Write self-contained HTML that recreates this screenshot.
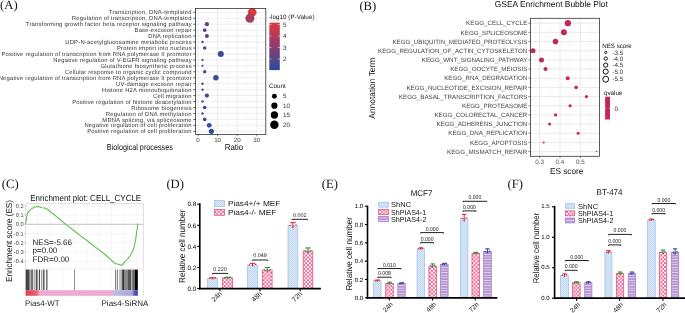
<!DOCTYPE html>
<html><head><meta charset="utf-8"><style>
html,body{margin:0;padding:0;background:#fff;}
body{width:685px;height:313px;overflow:hidden;font-family:"Liberation Sans", sans-serif;}
svg{display:block;will-change:transform;text-rendering:geometricPrecision;}
</style></head><body>
<svg width="685" height="313" viewBox="0 0 685 313">
<defs>
<linearGradient id="cbar" x1="0" y1="0" x2="0" y2="1">
<stop offset="0" stop-color="#e2383e"/><stop offset="0.5" stop-color="#8e3c70"/><stop offset="1" stop-color="#2b4b9c"/>
</linearGradient>
<pattern id="hatchB" patternUnits="userSpaceOnUse" width="2" height="2">
<rect width="2" height="2" fill="#dbe8f7"/><rect width="1" height="1" fill="#c4d9f1"/><rect x="1" y="1" width="1" height="1" fill="#c4d9f1"/>
</pattern>
<pattern id="checkP" patternUnits="userSpaceOnUse" width="3.7" height="3.8">
<rect width="3.7" height="3.8" fill="#ec6290"/><rect width="1.85" height="1.9" fill="#fff"/><rect x="1.85" y="1.9" width="1.85" height="1.9" fill="#fff"/>
</pattern>
<pattern id="stripeV" patternUnits="userSpaceOnUse" width="4" height="2.6">
<rect width="4" height="2.6" fill="#b592cf"/><rect y="1.7" width="4" height="0.9" fill="#e4d6ee"/>
</pattern>
<linearGradient id="rankbar" x1="0" y1="0" x2="1" y2="0">
<stop offset="0" stop-color="#de424e"/><stop offset="0.07" stop-color="#e4566a"/><stop offset="0.112" stop-color="#e87488"/><stop offset="0.12" stop-color="#ecaad4"/>
<stop offset="0.78" stop-color="#ecaad4"/><stop offset="0.786" stop-color="#bcbae6"/><stop offset="0.95" stop-color="#a8a6dc"/><stop offset="0.968" stop-color="#5a5ab4"/><stop offset="1" stop-color="#3c3ca0"/>
</linearGradient>
</defs>
<text x="0.10" y="8.70" font-size="12.7" text-anchor="start" fill="#111" font-family='"Liberation Serif", serif'>(A)</text>
<rect x="195.50" y="8.50" width="70.30" height="125.90" fill="#fff" stroke="none" stroke-width="0.6"/>
<line x1="207.80" y1="8.50" x2="207.80" y2="134.40" stroke="#f1f1f1" stroke-width="0.4"/>
<line x1="227.40" y1="8.50" x2="227.40" y2="134.40" stroke="#f1f1f1" stroke-width="0.4"/>
<line x1="247.00" y1="8.50" x2="247.00" y2="134.40" stroke="#f1f1f1" stroke-width="0.4"/>
<line x1="198.00" y1="8.50" x2="198.00" y2="134.40" stroke="#e6e6e6" stroke-width="0.7"/>
<line x1="217.60" y1="8.50" x2="217.60" y2="134.40" stroke="#e6e6e6" stroke-width="0.7"/>
<line x1="237.20" y1="8.50" x2="237.20" y2="134.40" stroke="#e6e6e6" stroke-width="0.7"/>
<line x1="256.80" y1="8.50" x2="256.80" y2="134.40" stroke="#e6e6e6" stroke-width="0.7"/>
<line x1="195.50" y1="12.30" x2="265.80" y2="12.30" stroke="#e6e6e6" stroke-width="0.7"/>
<line x1="195.50" y1="18.25" x2="265.80" y2="18.25" stroke="#e6e6e6" stroke-width="0.7"/>
<line x1="195.50" y1="24.20" x2="265.80" y2="24.20" stroke="#e6e6e6" stroke-width="0.7"/>
<line x1="195.50" y1="30.15" x2="265.80" y2="30.15" stroke="#e6e6e6" stroke-width="0.7"/>
<line x1="195.50" y1="36.10" x2="265.80" y2="36.10" stroke="#e6e6e6" stroke-width="0.7"/>
<line x1="195.50" y1="42.05" x2="265.80" y2="42.05" stroke="#e6e6e6" stroke-width="0.7"/>
<line x1="195.50" y1="48.00" x2="265.80" y2="48.00" stroke="#e6e6e6" stroke-width="0.7"/>
<line x1="195.50" y1="53.95" x2="265.80" y2="53.95" stroke="#e6e6e6" stroke-width="0.7"/>
<line x1="195.50" y1="59.90" x2="265.80" y2="59.90" stroke="#e6e6e6" stroke-width="0.7"/>
<line x1="195.50" y1="65.85" x2="265.80" y2="65.85" stroke="#e6e6e6" stroke-width="0.7"/>
<line x1="195.50" y1="71.80" x2="265.80" y2="71.80" stroke="#e6e6e6" stroke-width="0.7"/>
<line x1="195.50" y1="77.75" x2="265.80" y2="77.75" stroke="#e6e6e6" stroke-width="0.7"/>
<line x1="195.50" y1="83.70" x2="265.80" y2="83.70" stroke="#e6e6e6" stroke-width="0.7"/>
<line x1="195.50" y1="89.65" x2="265.80" y2="89.65" stroke="#e6e6e6" stroke-width="0.7"/>
<line x1="195.50" y1="95.60" x2="265.80" y2="95.60" stroke="#e6e6e6" stroke-width="0.7"/>
<line x1="195.50" y1="101.55" x2="265.80" y2="101.55" stroke="#e6e6e6" stroke-width="0.7"/>
<line x1="195.50" y1="107.50" x2="265.80" y2="107.50" stroke="#e6e6e6" stroke-width="0.7"/>
<line x1="195.50" y1="113.45" x2="265.80" y2="113.45" stroke="#e6e6e6" stroke-width="0.7"/>
<line x1="195.50" y1="119.40" x2="265.80" y2="119.40" stroke="#e6e6e6" stroke-width="0.7"/>
<line x1="195.50" y1="125.35" x2="265.80" y2="125.35" stroke="#e6e6e6" stroke-width="0.7"/>
<line x1="195.50" y1="131.30" x2="265.80" y2="131.30" stroke="#e6e6e6" stroke-width="0.7"/>
<circle cx="252.20" cy="12.30" r="4.30" fill="#dd393f" stroke="none" stroke-width="0.6"/>
<circle cx="249.90" cy="18.25" r="4.50" fill="#a43f62" stroke="none" stroke-width="0.6"/>
<circle cx="206.90" cy="24.20" r="2.10" fill="#5d3f88" stroke="none" stroke-width="0.6"/>
<circle cx="204.70" cy="30.15" r="1.80" fill="#52418f" stroke="none" stroke-width="0.6"/>
<circle cx="206.90" cy="36.10" r="2.00" fill="#5a3f8b" stroke="none" stroke-width="0.6"/>
<circle cx="202.50" cy="42.05" r="1.20" fill="#404a97" stroke="none" stroke-width="0.6"/>
<circle cx="204.70" cy="48.00" r="1.70" fill="#3f4a98" stroke="none" stroke-width="0.6"/>
<circle cx="220.80" cy="53.95" r="3.00" fill="#3d4a99" stroke="none" stroke-width="0.6"/>
<circle cx="202.50" cy="59.90" r="1.10" fill="#3e4a97" stroke="none" stroke-width="0.6"/>
<circle cx="202.50" cy="65.85" r="1.10" fill="#3e4a97" stroke="none" stroke-width="0.6"/>
<circle cx="204.70" cy="71.80" r="1.70" fill="#3d4b98" stroke="none" stroke-width="0.6"/>
<circle cx="215.90" cy="77.75" r="2.80" fill="#3c4b99" stroke="none" stroke-width="0.6"/>
<circle cx="202.50" cy="83.70" r="1.20" fill="#3d4a98" stroke="none" stroke-width="0.6"/>
<circle cx="202.50" cy="89.65" r="1.20" fill="#3d4a98" stroke="none" stroke-width="0.6"/>
<circle cx="206.90" cy="95.60" r="2.10" fill="#3b4b99" stroke="none" stroke-width="0.6"/>
<circle cx="202.50" cy="101.55" r="1.20" fill="#3c4b99" stroke="none" stroke-width="0.6"/>
<circle cx="204.70" cy="107.50" r="1.80" fill="#3b4b99" stroke="none" stroke-width="0.6"/>
<circle cx="202.50" cy="113.45" r="1.20" fill="#3b4b99" stroke="none" stroke-width="0.6"/>
<circle cx="204.70" cy="119.40" r="1.80" fill="#374c9b" stroke="none" stroke-width="0.6"/>
<circle cx="209.20" cy="125.35" r="2.40" fill="#334d9c" stroke="none" stroke-width="0.6"/>
<circle cx="211.40" cy="131.30" r="2.60" fill="#2f4e9e" stroke="none" stroke-width="0.6"/>
<rect x="195.50" y="8.50" width="70.30" height="125.90" fill="none" stroke="#333" stroke-width="0.8"/>
<text x="191.60" y="14.40" font-size="5.85" text-anchor="end" fill="#333" font-family='"Liberation Sans", sans-serif' textLength="82.75" lengthAdjust="spacing">Transcription, DNA-templated</text>
<line x1="193.30" y1="12.30" x2="195.50" y2="12.30" stroke="#333" stroke-width="0.8"/>
<text x="191.60" y="20.35" font-size="5.85" text-anchor="end" fill="#333" font-family='"Liberation Sans", sans-serif' textLength="119.76" lengthAdjust="spacing">Regulation of transcription, DNA-templated</text>
<line x1="193.30" y1="18.25" x2="195.50" y2="18.25" stroke="#333" stroke-width="0.8"/>
<text x="191.60" y="26.30" font-size="5.85" text-anchor="end" fill="#333" font-family='"Liberation Sans", sans-serif' textLength="165.75" lengthAdjust="spacing">Transforming growth factor beta receptor signaling pathway</text>
<line x1="193.30" y1="24.20" x2="195.50" y2="24.20" stroke="#333" stroke-width="0.8"/>
<text x="191.60" y="32.25" font-size="5.85" text-anchor="end" fill="#333" font-family='"Liberation Sans", sans-serif' textLength="57.08" lengthAdjust="spacing">Base-excision repair</text>
<line x1="193.30" y1="30.15" x2="195.50" y2="30.15" stroke="#333" stroke-width="0.8"/>
<text x="191.60" y="38.20" font-size="5.85" text-anchor="end" fill="#333" font-family='"Liberation Sans", sans-serif' textLength="43.42" lengthAdjust="spacing">DNA replication</text>
<line x1="193.30" y1="36.10" x2="195.50" y2="36.10" stroke="#333" stroke-width="0.8"/>
<text x="191.60" y="44.15" font-size="5.85" text-anchor="end" fill="#333" font-family='"Liberation Sans", sans-serif' textLength="126.40" lengthAdjust="spacing">UDP-N-acetylglucosamine metabolic process</text>
<line x1="193.30" y1="42.05" x2="195.50" y2="42.05" stroke="#333" stroke-width="0.8"/>
<text x="191.60" y="50.10" font-size="5.85" text-anchor="end" fill="#333" font-family='"Liberation Sans", sans-serif' textLength="74.59" lengthAdjust="spacing">Protein import into nucleus</text>
<line x1="193.30" y1="48.00" x2="195.50" y2="48.00" stroke="#333" stroke-width="0.8"/>
<text x="191.60" y="56.05" font-size="5.85" text-anchor="end" fill="#333" font-family='"Liberation Sans", sans-serif' textLength="190.13" lengthAdjust="spacing">Positive regulation of transcription from RNA polymerase II promoter</text>
<line x1="193.30" y1="53.95" x2="195.50" y2="53.95" stroke="#333" stroke-width="0.8"/>
<text x="191.60" y="62.00" font-size="5.85" text-anchor="end" fill="#333" font-family='"Liberation Sans", sans-serif' textLength="138.33" lengthAdjust="spacing">Negative regulation of V-EGFR signaling pathway</text>
<line x1="193.30" y1="59.90" x2="195.50" y2="59.90" stroke="#333" stroke-width="0.8"/>
<text x="191.60" y="67.95" font-size="5.85" text-anchor="end" fill="#333" font-family='"Liberation Sans", sans-serif' textLength="91.05" lengthAdjust="spacing">Glutathione biosynthetic process</text>
<line x1="193.30" y1="65.85" x2="195.50" y2="65.85" stroke="#333" stroke-width="0.8"/>
<text x="191.60" y="73.90" font-size="5.85" text-anchor="end" fill="#333" font-family='"Liberation Sans", sans-serif' textLength="126.76" lengthAdjust="spacing">Cellular response to organic cyclic compound</text>
<line x1="193.30" y1="71.80" x2="195.50" y2="71.80" stroke="#333" stroke-width="0.8"/>
<text x="191.60" y="79.85" font-size="5.85" text-anchor="end" fill="#333" font-family='"Liberation Sans", sans-serif' textLength="192.94" lengthAdjust="spacing">Negative regulation of transcription from RNA polymerase II promoter</text>
<line x1="193.30" y1="77.75" x2="195.50" y2="77.75" stroke="#333" stroke-width="0.8"/>
<text x="191.60" y="85.80" font-size="5.85" text-anchor="end" fill="#333" font-family='"Liberation Sans", sans-serif' textLength="75.64" lengthAdjust="spacing">UV-damage excision repair</text>
<line x1="193.30" y1="83.70" x2="195.50" y2="83.70" stroke="#333" stroke-width="0.8"/>
<text x="191.60" y="91.75" font-size="5.85" text-anchor="end" fill="#333" font-family='"Liberation Sans", sans-serif' textLength="89.66" lengthAdjust="spacing">Histone H2A monoubiquitination</text>
<line x1="193.30" y1="89.65" x2="195.50" y2="89.65" stroke="#333" stroke-width="0.8"/>
<text x="191.60" y="97.70" font-size="5.85" text-anchor="end" fill="#333" font-family='"Liberation Sans", sans-serif' textLength="38.51" lengthAdjust="spacing">Cell migration</text>
<line x1="193.30" y1="95.60" x2="195.50" y2="95.60" stroke="#333" stroke-width="0.8"/>
<text x="191.60" y="103.65" font-size="5.85" text-anchor="end" fill="#333" font-family='"Liberation Sans", sans-serif' textLength="119.43" lengthAdjust="spacing">Positive regulation of histone deacetylation</text>
<line x1="193.30" y1="101.55" x2="195.50" y2="101.55" stroke="#333" stroke-width="0.8"/>
<text x="191.60" y="109.60" font-size="5.85" text-anchor="end" fill="#333" font-family='"Liberation Sans", sans-serif' textLength="60.23" lengthAdjust="spacing">Ribosome biogenesis</text>
<line x1="193.30" y1="107.50" x2="195.50" y2="107.50" stroke="#333" stroke-width="0.8"/>
<text x="191.60" y="115.55" font-size="5.85" text-anchor="end" fill="#333" font-family='"Liberation Sans", sans-serif' textLength="85.80" lengthAdjust="spacing">Regulation of DNA methylation</text>
<line x1="193.30" y1="113.45" x2="195.50" y2="113.45" stroke="#333" stroke-width="0.8"/>
<text x="191.60" y="121.50" font-size="5.85" text-anchor="end" fill="#333" font-family='"Liberation Sans", sans-serif' textLength="89.28" lengthAdjust="spacing">MRNA splicing, via spliceosome</text>
<line x1="193.30" y1="119.40" x2="195.50" y2="119.40" stroke="#333" stroke-width="0.8"/>
<text x="191.60" y="127.45" font-size="5.85" text-anchor="end" fill="#333" font-family='"Liberation Sans", sans-serif' textLength="107.16" lengthAdjust="spacing">Negative regulation of cell proliferation</text>
<line x1="193.30" y1="125.35" x2="195.50" y2="125.35" stroke="#333" stroke-width="0.8"/>
<text x="191.60" y="133.40" font-size="5.85" text-anchor="end" fill="#333" font-family='"Liberation Sans", sans-serif' textLength="104.36" lengthAdjust="spacing">Positive regulation of cell proliferation</text>
<line x1="193.30" y1="131.30" x2="195.50" y2="131.30" stroke="#333" stroke-width="0.8"/>
<line x1="198.00" y1="134.40" x2="198.00" y2="136.40" stroke="#333" stroke-width="0.6"/>
<text x="198.00" y="141.60" font-size="6.2" text-anchor="middle" fill="#444" font-family='"Liberation Sans", sans-serif'>0</text>
<line x1="217.60" y1="134.40" x2="217.60" y2="136.40" stroke="#333" stroke-width="0.6"/>
<text x="217.60" y="141.60" font-size="6.2" text-anchor="middle" fill="#444" font-family='"Liberation Sans", sans-serif'>10</text>
<line x1="237.20" y1="134.40" x2="237.20" y2="136.40" stroke="#333" stroke-width="0.6"/>
<text x="237.20" y="141.60" font-size="6.2" text-anchor="middle" fill="#444" font-family='"Liberation Sans", sans-serif'>20</text>
<line x1="256.80" y1="134.40" x2="256.80" y2="136.40" stroke="#333" stroke-width="0.6"/>
<text x="256.80" y="141.60" font-size="6.2" text-anchor="middle" fill="#444" font-family='"Liberation Sans", sans-serif'>30</text>
<text x="234.00" y="150.20" font-size="8.6" text-anchor="middle" fill="#111" font-family='"Liberation Sans", sans-serif' textLength="18.60" lengthAdjust="spacingAndGlyphs">Ratio</text>
<text x="106.80" y="150.10" font-size="8.6" text-anchor="start" fill="#111" font-family='"Liberation Sans", sans-serif' textLength="66.10" lengthAdjust="spacingAndGlyphs">Biological processes</text>
<text x="269.00" y="19.30" font-size="6.3" text-anchor="start" fill="#111" font-family='"Liberation Sans", sans-serif' textLength="45.50" lengthAdjust="spacingAndGlyphs">-log10 (P-Value)</text>
<rect x="269.30" y="22.70" width="10.50" height="47.40" fill="url(#cbar)" stroke="none" stroke-width="0.6"/>
<line x1="269.30" y1="24.60" x2="271.40" y2="24.60" stroke="#fff" stroke-width="0.5"/>
<line x1="277.70" y1="24.60" x2="279.80" y2="24.60" stroke="#fff" stroke-width="0.5"/>
<text x="283.00" y="26.80" font-size="6.3" text-anchor="start" fill="#333" font-family='"Liberation Sans", sans-serif'>5</text>
<line x1="269.30" y1="36.10" x2="271.40" y2="36.10" stroke="#fff" stroke-width="0.5"/>
<line x1="277.70" y1="36.10" x2="279.80" y2="36.10" stroke="#fff" stroke-width="0.5"/>
<text x="283.00" y="38.30" font-size="6.3" text-anchor="start" fill="#333" font-family='"Liberation Sans", sans-serif'>4</text>
<line x1="269.30" y1="47.50" x2="271.40" y2="47.50" stroke="#fff" stroke-width="0.5"/>
<line x1="277.70" y1="47.50" x2="279.80" y2="47.50" stroke="#fff" stroke-width="0.5"/>
<text x="283.00" y="49.70" font-size="6.3" text-anchor="start" fill="#333" font-family='"Liberation Sans", sans-serif'>3</text>
<line x1="269.30" y1="59.00" x2="271.40" y2="59.00" stroke="#fff" stroke-width="0.5"/>
<line x1="277.70" y1="59.00" x2="279.80" y2="59.00" stroke="#fff" stroke-width="0.5"/>
<text x="283.00" y="61.20" font-size="6.3" text-anchor="start" fill="#333" font-family='"Liberation Sans", sans-serif'>2</text>
<text x="269.00" y="87.60" font-size="6.3" text-anchor="start" fill="#111" font-family='"Liberation Sans", sans-serif' textLength="16.80" lengthAdjust="spacingAndGlyphs">Count</text>
<circle cx="274.40" cy="96.20" r="2.45" fill="#000" stroke="none" stroke-width="0.6"/>
<text x="283.00" y="98.40" font-size="6.3" text-anchor="start" fill="#333" font-family='"Liberation Sans", sans-serif'>5</text>
<circle cx="274.40" cy="105.70" r="3.10" fill="#000" stroke="none" stroke-width="0.6"/>
<text x="283.00" y="107.90" font-size="6.3" text-anchor="start" fill="#333" font-family='"Liberation Sans", sans-serif'>10</text>
<circle cx="274.40" cy="115.00" r="3.65" fill="#000" stroke="none" stroke-width="0.6"/>
<text x="283.00" y="117.20" font-size="6.3" text-anchor="start" fill="#333" font-family='"Liberation Sans", sans-serif'>15</text>
<circle cx="274.40" cy="124.70" r="4.20" fill="#000" stroke="none" stroke-width="0.6"/>
<text x="283.00" y="126.90" font-size="6.3" text-anchor="start" fill="#333" font-family='"Liberation Sans", sans-serif'>20</text>
<text x="359.40" y="9.60" font-size="12.7" text-anchor="start" fill="#111" font-family='"Liberation Serif", serif'>(B)</text>
<text x="494.80" y="6.60" font-size="8.6" text-anchor="start" fill="#111" font-family='"Liberation Sans", sans-serif' textLength="113.00" lengthAdjust="spacingAndGlyphs">GSEA Enrichment Bubble Plot</text>
<rect x="530.50" y="18.30" width="69.00" height="138.00" fill="#fff" stroke="none" stroke-width="0.6"/>
<line x1="549.85" y1="18.30" x2="549.85" y2="156.30" stroke="#f0f0f0" stroke-width="0.45"/>
<line x1="570.15" y1="18.30" x2="570.15" y2="156.30" stroke="#f0f0f0" stroke-width="0.45"/>
<line x1="590.45" y1="18.30" x2="590.45" y2="156.30" stroke="#f0f0f0" stroke-width="0.45"/>
<line x1="539.70" y1="18.30" x2="539.70" y2="156.30" stroke="#e3e3e3" stroke-width="0.75"/>
<line x1="560.00" y1="18.30" x2="560.00" y2="156.30" stroke="#e3e3e3" stroke-width="0.75"/>
<line x1="580.30" y1="18.30" x2="580.30" y2="156.30" stroke="#e3e3e3" stroke-width="0.75"/>
<line x1="530.50" y1="23.20" x2="599.50" y2="23.20" stroke="#e3e3e3" stroke-width="0.75"/>
<line x1="530.50" y1="32.37" x2="599.50" y2="32.37" stroke="#e3e3e3" stroke-width="0.75"/>
<line x1="530.50" y1="41.54" x2="599.50" y2="41.54" stroke="#e3e3e3" stroke-width="0.75"/>
<line x1="530.50" y1="50.71" x2="599.50" y2="50.71" stroke="#e3e3e3" stroke-width="0.75"/>
<line x1="530.50" y1="59.88" x2="599.50" y2="59.88" stroke="#e3e3e3" stroke-width="0.75"/>
<line x1="530.50" y1="69.05" x2="599.50" y2="69.05" stroke="#e3e3e3" stroke-width="0.75"/>
<line x1="530.50" y1="78.22" x2="599.50" y2="78.22" stroke="#e3e3e3" stroke-width="0.75"/>
<line x1="530.50" y1="87.39" x2="599.50" y2="87.39" stroke="#e3e3e3" stroke-width="0.75"/>
<line x1="530.50" y1="96.56" x2="599.50" y2="96.56" stroke="#e3e3e3" stroke-width="0.75"/>
<line x1="530.50" y1="105.73" x2="599.50" y2="105.73" stroke="#e3e3e3" stroke-width="0.75"/>
<line x1="530.50" y1="114.90" x2="599.50" y2="114.90" stroke="#e3e3e3" stroke-width="0.75"/>
<line x1="530.50" y1="124.07" x2="599.50" y2="124.07" stroke="#e3e3e3" stroke-width="0.75"/>
<line x1="530.50" y1="133.24" x2="599.50" y2="133.24" stroke="#e3e3e3" stroke-width="0.75"/>
<line x1="530.50" y1="142.41" x2="599.50" y2="142.41" stroke="#e3e3e3" stroke-width="0.75"/>
<line x1="530.50" y1="151.58" x2="599.50" y2="151.58" stroke="#e3e3e3" stroke-width="0.75"/>
<circle cx="567.90" cy="23.20" r="3.15" fill="#c2285e" stroke="none" stroke-width="0.6"/>
<circle cx="563.90" cy="32.37" r="3.00" fill="#c2285e" stroke="none" stroke-width="0.6"/>
<circle cx="555.50" cy="41.54" r="2.80" fill="#c2285e" stroke="none" stroke-width="0.6"/>
<circle cx="533.00" cy="50.71" r="2.50" fill="#c2285e" stroke="none" stroke-width="0.6"/>
<circle cx="541.50" cy="59.88" r="2.50" fill="#c2285e" stroke="none" stroke-width="0.6"/>
<circle cx="545.50" cy="69.05" r="2.00" fill="#c2285e" stroke="none" stroke-width="0.6"/>
<circle cx="567.70" cy="78.22" r="2.00" fill="#c2285e" stroke="none" stroke-width="0.6"/>
<circle cx="576.10" cy="87.39" r="1.80" fill="#c2285e" stroke="none" stroke-width="0.6"/>
<circle cx="586.40" cy="96.56" r="1.60" fill="#c2285e" stroke="none" stroke-width="0.6"/>
<circle cx="570.10" cy="105.73" r="1.60" fill="#c2285e" stroke="none" stroke-width="0.6"/>
<circle cx="555.60" cy="114.90" r="1.60" fill="#c2285e" stroke="none" stroke-width="0.6"/>
<circle cx="549.60" cy="124.07" r="1.50" fill="#c2285e" stroke="none" stroke-width="0.6"/>
<circle cx="578.10" cy="133.24" r="1.50" fill="#c2285e" stroke="none" stroke-width="0.6"/>
<circle cx="543.70" cy="142.41" r="1.00" fill="#c2285e" stroke="none" stroke-width="0.6"/>
<circle cx="596.50" cy="151.58" r="0.75" fill="#c2285e" stroke="none" stroke-width="0.6"/>
<rect x="530.50" y="18.30" width="69.00" height="138.00" fill="none" stroke="#333" stroke-width="0.8"/>
<text x="527.30" y="25.45" font-size="6.22" text-anchor="end" fill="#444" font-family='"Liberation Sans", sans-serif'>KEGG_CELL_CYCLE</text>
<line x1="528.40" y1="23.20" x2="530.50" y2="23.20" stroke="#333" stroke-width="0.6"/>
<text x="527.30" y="34.62" font-size="6.22" text-anchor="end" fill="#444" font-family='"Liberation Sans", sans-serif'>KEGG_SPLICEOSOME</text>
<line x1="528.40" y1="32.37" x2="530.50" y2="32.37" stroke="#333" stroke-width="0.6"/>
<text x="527.30" y="43.79" font-size="6.22" text-anchor="end" fill="#444" font-family='"Liberation Sans", sans-serif'>KEGG_UBIQUITIN_MEDIATED_PROTEOLYSIS</text>
<line x1="528.40" y1="41.54" x2="530.50" y2="41.54" stroke="#333" stroke-width="0.6"/>
<text x="527.30" y="52.96" font-size="6.22" text-anchor="end" fill="#444" font-family='"Liberation Sans", sans-serif'>KEGG_REGULATION_OF_ACTIN_CYTOSKELETON</text>
<line x1="528.40" y1="50.71" x2="530.50" y2="50.71" stroke="#333" stroke-width="0.6"/>
<text x="527.30" y="62.13" font-size="6.22" text-anchor="end" fill="#444" font-family='"Liberation Sans", sans-serif'>KEGG_WNT_SIGNALING_PATHWAY</text>
<line x1="528.40" y1="59.88" x2="530.50" y2="59.88" stroke="#333" stroke-width="0.6"/>
<text x="527.30" y="71.30" font-size="6.22" text-anchor="end" fill="#444" font-family='"Liberation Sans", sans-serif'>KEGG_OOCYTE_MEIOSIS</text>
<line x1="528.40" y1="69.05" x2="530.50" y2="69.05" stroke="#333" stroke-width="0.6"/>
<text x="527.30" y="80.47" font-size="6.22" text-anchor="end" fill="#444" font-family='"Liberation Sans", sans-serif'>KEGG_RNA_DEGRADATION</text>
<line x1="528.40" y1="78.22" x2="530.50" y2="78.22" stroke="#333" stroke-width="0.6"/>
<text x="527.30" y="89.64" font-size="6.22" text-anchor="end" fill="#444" font-family='"Liberation Sans", sans-serif'>KEGG_NUCLEOTIDE_EXCISION_REPAIR</text>
<line x1="528.40" y1="87.39" x2="530.50" y2="87.39" stroke="#333" stroke-width="0.6"/>
<text x="527.30" y="98.81" font-size="6.22" text-anchor="end" fill="#444" font-family='"Liberation Sans", sans-serif'>KEGG_BASAL_TRANSCRIPTION_FACTORS</text>
<line x1="528.40" y1="96.56" x2="530.50" y2="96.56" stroke="#333" stroke-width="0.6"/>
<text x="527.30" y="107.98" font-size="6.22" text-anchor="end" fill="#444" font-family='"Liberation Sans", sans-serif'>KEGG_PROTEASOME</text>
<line x1="528.40" y1="105.73" x2="530.50" y2="105.73" stroke="#333" stroke-width="0.6"/>
<text x="527.30" y="117.15" font-size="6.22" text-anchor="end" fill="#444" font-family='"Liberation Sans", sans-serif'>KEGG_COLORECTAL_CANCER</text>
<line x1="528.40" y1="114.90" x2="530.50" y2="114.90" stroke="#333" stroke-width="0.6"/>
<text x="527.30" y="126.32" font-size="6.22" text-anchor="end" fill="#444" font-family='"Liberation Sans", sans-serif'>KEGG_ADHERENS_JUNCTION</text>
<line x1="528.40" y1="124.07" x2="530.50" y2="124.07" stroke="#333" stroke-width="0.6"/>
<text x="527.30" y="135.49" font-size="6.22" text-anchor="end" fill="#444" font-family='"Liberation Sans", sans-serif'>KEGG_DNA_REPLICATION</text>
<line x1="528.40" y1="133.24" x2="530.50" y2="133.24" stroke="#333" stroke-width="0.6"/>
<text x="527.30" y="144.66" font-size="6.22" text-anchor="end" fill="#444" font-family='"Liberation Sans", sans-serif'>KEGG_APOPTOSIS</text>
<line x1="528.40" y1="142.41" x2="530.50" y2="142.41" stroke="#333" stroke-width="0.6"/>
<text x="527.30" y="153.83" font-size="6.22" text-anchor="end" fill="#444" font-family='"Liberation Sans", sans-serif'>KEGG_MISMATCH_REPAIR</text>
<line x1="528.40" y1="151.58" x2="530.50" y2="151.58" stroke="#333" stroke-width="0.6"/>
<line x1="539.70" y1="156.30" x2="539.70" y2="158.30" stroke="#333" stroke-width="0.6"/>
<text x="539.70" y="164.10" font-size="6.3" text-anchor="middle" fill="#555" font-family='"Liberation Sans", sans-serif'>0.3</text>
<line x1="560.00" y1="156.30" x2="560.00" y2="158.30" stroke="#333" stroke-width="0.6"/>
<text x="560.00" y="164.10" font-size="6.3" text-anchor="middle" fill="#555" font-family='"Liberation Sans", sans-serif'>0.4</text>
<line x1="580.30" y1="156.30" x2="580.30" y2="158.30" stroke="#333" stroke-width="0.6"/>
<text x="580.30" y="164.10" font-size="6.3" text-anchor="middle" fill="#555" font-family='"Liberation Sans", sans-serif'>0.5</text>
<text x="566.70" y="173.80" font-size="8.6" text-anchor="middle" fill="#111" font-family='"Liberation Sans", sans-serif' textLength="33.50" lengthAdjust="spacingAndGlyphs">ES score</text>
<text x="374.80" y="88.20" font-size="8.6" text-anchor="middle" fill="#111" font-family='"Liberation Sans", sans-serif' textLength="61.00" lengthAdjust="spacingAndGlyphs" transform="rotate(-90 374.80 88.20)">Annotation Term</text>
<text x="602.30" y="48.00" font-size="6.3" text-anchor="start" fill="#111" font-family='"Liberation Sans", sans-serif' textLength="29.50" lengthAdjust="spacingAndGlyphs">NES score</text>
<circle cx="605.70" cy="52.40" r="1.10" fill="none" stroke="#111" stroke-width="1.0"/>
<text x="612.40" y="54.60" font-size="6.3" text-anchor="start" fill="#333" font-family='"Liberation Sans", sans-serif'>-3.5</text>
<circle cx="605.70" cy="58.60" r="1.70" fill="none" stroke="#111" stroke-width="1.0"/>
<text x="612.40" y="60.80" font-size="6.3" text-anchor="start" fill="#333" font-family='"Liberation Sans", sans-serif'>-4.0</text>
<circle cx="605.70" cy="65.10" r="2.15" fill="none" stroke="#111" stroke-width="1.0"/>
<text x="612.40" y="67.30" font-size="6.3" text-anchor="start" fill="#333" font-family='"Liberation Sans", sans-serif'>-4.5</text>
<circle cx="605.70" cy="71.60" r="2.55" fill="none" stroke="#111" stroke-width="1.0"/>
<text x="612.40" y="73.80" font-size="6.3" text-anchor="start" fill="#333" font-family='"Liberation Sans", sans-serif'>-5.0</text>
<circle cx="605.70" cy="79.20" r="2.95" fill="none" stroke="#111" stroke-width="1.0"/>
<text x="612.40" y="81.40" font-size="6.3" text-anchor="start" fill="#333" font-family='"Liberation Sans", sans-serif'>-5.5</text>
<text x="603.90" y="95.00" font-size="6.3" text-anchor="start" fill="#111" font-family='"Liberation Sans", sans-serif'>qvalue</text>
<rect x="605.10" y="96.80" width="4.90" height="22.70" fill="#c2285e" stroke="none" stroke-width="0.6"/>
<line x1="605.10" y1="108.30" x2="606.30" y2="108.30" stroke="#fff" stroke-width="0.5"/>
<line x1="608.80" y1="108.30" x2="610.00" y2="108.30" stroke="#fff" stroke-width="0.5"/>
<text x="614.60" y="110.90" font-size="6.3" text-anchor="start" fill="#333" font-family='"Liberation Sans", sans-serif'>0</text>
<text x="1.70" y="188.30" font-size="12.7" text-anchor="start" fill="#111" font-family='"Liberation Serif", serif'>(C)</text>
<text x="30.20" y="201.00" font-size="8.8" text-anchor="start" fill="#111" font-family='"Liberation Sans", sans-serif' textLength="111.00" lengthAdjust="spacingAndGlyphs">Enrichment plot: CELL_CYCLE</text>
<rect x="25.60" y="203.60" width="117.80" height="66.00" fill="#fff" stroke="none" stroke-width="0.6"/>
<line x1="37.88" y1="203.60" x2="37.88" y2="269.60" stroke="#ececec" stroke-width="0.5"/>
<line x1="50.16" y1="203.60" x2="50.16" y2="269.60" stroke="#ececec" stroke-width="0.5"/>
<line x1="62.44" y1="203.60" x2="62.44" y2="269.60" stroke="#ececec" stroke-width="0.5"/>
<line x1="74.72" y1="203.60" x2="74.72" y2="269.60" stroke="#ececec" stroke-width="0.5"/>
<line x1="87.00" y1="203.60" x2="87.00" y2="269.60" stroke="#ececec" stroke-width="0.5"/>
<line x1="99.28" y1="203.60" x2="99.28" y2="269.60" stroke="#ececec" stroke-width="0.5"/>
<line x1="111.56" y1="203.60" x2="111.56" y2="269.60" stroke="#ececec" stroke-width="0.5"/>
<line x1="123.84" y1="203.60" x2="123.84" y2="269.60" stroke="#ececec" stroke-width="0.5"/>
<line x1="136.12" y1="203.60" x2="136.12" y2="269.60" stroke="#ececec" stroke-width="0.5"/>
<line x1="25.60" y1="205.80" x2="143.40" y2="205.80" stroke="#ececec" stroke-width="0.5"/>
<line x1="25.60" y1="215.05" x2="143.40" y2="215.05" stroke="#ececec" stroke-width="0.5"/>
<line x1="25.60" y1="233.55" x2="143.40" y2="233.55" stroke="#ececec" stroke-width="0.5"/>
<line x1="25.60" y1="242.80" x2="143.40" y2="242.80" stroke="#ececec" stroke-width="0.5"/>
<line x1="25.60" y1="252.05" x2="143.40" y2="252.05" stroke="#ececec" stroke-width="0.5"/>
<line x1="25.60" y1="261.30" x2="143.40" y2="261.30" stroke="#ececec" stroke-width="0.5"/>
<line x1="25.60" y1="224.30" x2="143.40" y2="224.30" stroke="#a8a8a8" stroke-width="0.7"/>
<path d="M25.6,269.6 L25.6,203.6 L143.4,203.6 L143.4,295.8" fill="none" stroke="#c8c8c8" stroke-width="0.6"/>
<text x="23.50" y="207.80" font-size="5.6" text-anchor="end" fill="#444" font-family='"Liberation Sans", sans-serif'>0.2</text>
<line x1="23.60" y1="205.80" x2="25.60" y2="205.80" stroke="#999" stroke-width="0.4"/>
<text x="23.50" y="217.05" font-size="5.6" text-anchor="end" fill="#444" font-family='"Liberation Sans", sans-serif'>0.1</text>
<line x1="23.60" y1="215.05" x2="25.60" y2="215.05" stroke="#999" stroke-width="0.4"/>
<text x="23.50" y="226.30" font-size="5.6" text-anchor="end" fill="#444" font-family='"Liberation Sans", sans-serif'>0.0</text>
<line x1="23.60" y1="224.30" x2="25.60" y2="224.30" stroke="#999" stroke-width="0.4"/>
<text x="23.50" y="235.55" font-size="5.6" text-anchor="end" fill="#444" font-family='"Liberation Sans", sans-serif'>-0.1</text>
<line x1="23.60" y1="233.55" x2="25.60" y2="233.55" stroke="#999" stroke-width="0.4"/>
<text x="23.50" y="244.80" font-size="5.6" text-anchor="end" fill="#444" font-family='"Liberation Sans", sans-serif'>-0.2</text>
<line x1="23.60" y1="242.80" x2="25.60" y2="242.80" stroke="#999" stroke-width="0.4"/>
<text x="23.50" y="254.05" font-size="5.6" text-anchor="end" fill="#444" font-family='"Liberation Sans", sans-serif'>-0.3</text>
<line x1="23.60" y1="252.05" x2="25.60" y2="252.05" stroke="#999" stroke-width="0.4"/>
<text x="23.50" y="263.30" font-size="5.6" text-anchor="end" fill="#444" font-family='"Liberation Sans", sans-serif'>-0.4</text>
<line x1="23.60" y1="261.30" x2="25.60" y2="261.30" stroke="#999" stroke-width="0.4"/>
<text x="12.40" y="241.00" font-size="8.6" text-anchor="middle" fill="#111" font-family='"Liberation Sans", sans-serif' textLength="82.00" lengthAdjust="spacingAndGlyphs" transform="rotate(-90 12.40 241.00)">Enrichment score (ES)</text>
<polyline points="25.60,224.30 26.00,221.50 26.50,218.00 27.00,215.20 27.60,213.30 28.40,212.00 29.30,211.20 30.20,210.00 31.20,209.00 32.40,208.20 33.60,207.60 35.00,207.10 36.50,206.70 38.00,206.60 39.50,206.90 41.00,207.40 42.50,207.80 44.00,207.90 45.50,208.30 47.00,208.90 50.00,211.50 55.00,215.40 60.00,219.50 65.80,224.30 70.00,227.70 75.00,231.50 80.00,235.40 85.00,239.20 90.00,243.00 95.00,246.80 100.00,250.60 105.00,254.50 110.00,258.90 114.50,263.20 116.00,263.80 117.50,264.00 119.00,264.60 120.50,265.00 121.50,265.40 122.50,264.60 124.00,262.60 126.00,260.50 128.00,258.30 130.00,255.80 132.40,251.80 134.00,247.50 135.10,242.50 136.00,237.00 136.80,231.30 137.40,227.00 138.00,223.50" fill="none" stroke="#5dba47" stroke-width="1.05" stroke-linejoin="round"/>
<text x="32.60" y="244.60" font-size="8.0" text-anchor="start" fill="#222" font-family='"Liberation Sans", sans-serif'>NES=-5.66</text>
<text x="32.60" y="253.20" font-size="8.0" text-anchor="start" fill="#222" font-family='"Liberation Sans", sans-serif'>p=0.00</text>
<text x="32.60" y="262.40" font-size="8.0" text-anchor="start" fill="#222" font-family='"Liberation Sans", sans-serif'>FDR=0.00</text>
<rect x="25.60" y="269.60" width="117.80" height="20.60" fill="#fff" stroke="none" stroke-width="0.6"/>
<line x1="25.60" y1="268.70" x2="143.40" y2="268.70" stroke="#e4e4e4" stroke-width="0.5"/>
<line x1="37.88" y1="269.60" x2="37.88" y2="290.20" stroke="#f2f2f2" stroke-width="0.4"/>
<line x1="50.16" y1="269.60" x2="50.16" y2="290.20" stroke="#f2f2f2" stroke-width="0.4"/>
<line x1="62.44" y1="269.60" x2="62.44" y2="290.20" stroke="#f2f2f2" stroke-width="0.4"/>
<line x1="74.72" y1="269.60" x2="74.72" y2="290.20" stroke="#f2f2f2" stroke-width="0.4"/>
<line x1="87.00" y1="269.60" x2="87.00" y2="290.20" stroke="#f2f2f2" stroke-width="0.4"/>
<line x1="99.28" y1="269.60" x2="99.28" y2="290.20" stroke="#f2f2f2" stroke-width="0.4"/>
<line x1="111.56" y1="269.60" x2="111.56" y2="290.20" stroke="#f2f2f2" stroke-width="0.4"/>
<line x1="123.84" y1="269.60" x2="123.84" y2="290.20" stroke="#f2f2f2" stroke-width="0.4"/>
<line x1="136.12" y1="269.60" x2="136.12" y2="290.20" stroke="#f2f2f2" stroke-width="0.4"/>
<rect x="25.60" y="269.60" width="4.10" height="20.60" fill="#454545" stroke="none" stroke-width="0.6"/>
<rect x="29.70" y="269.60" width="0.90" height="20.60" fill="#aaa" stroke="none" stroke-width="0.6"/>
<rect x="30.70" y="269.60" width="1.50" height="20.60" fill="#777" stroke="none" stroke-width="0.6"/>
<rect x="32.20" y="269.60" width="0.80" height="20.60" fill="#555" stroke="none" stroke-width="0.6"/>
<rect x="33.00" y="269.60" width="2.60" height="20.60" fill="#d8d8d8" stroke="none" stroke-width="0.6"/>
<rect x="34.10" y="269.60" width="0.60" height="20.60" fill="#999" stroke="none" stroke-width="0.6"/>
<rect x="35.80" y="269.60" width="1.80" height="20.60" fill="#555" stroke="none" stroke-width="0.6"/>
<rect x="38.90" y="269.60" width="1.00" height="20.60" fill="#333" stroke="none" stroke-width="0.6"/>
<rect x="41.20" y="269.60" width="1.10" height="20.60" fill="#888" stroke="none" stroke-width="0.6"/>
<rect x="43.20" y="269.60" width="1.30" height="20.60" fill="#444" stroke="none" stroke-width="0.6"/>
<rect x="46.00" y="269.60" width="1.60" height="20.60" fill="#777" stroke="none" stroke-width="0.6"/>
<rect x="74.20" y="269.60" width="0.80" height="20.60" fill="#777" stroke="none" stroke-width="0.6"/>
<rect x="115.00" y="269.60" width="0.60" height="20.60" fill="#333" stroke="none" stroke-width="0.6"/>
<rect x="116.70" y="269.60" width="0.60" height="20.60" fill="#999" stroke="none" stroke-width="0.6"/>
<rect x="117.40" y="269.60" width="0.60" height="20.60" fill="#555" stroke="none" stroke-width="0.6"/>
<rect x="118.90" y="269.60" width="0.60" height="20.60" fill="#999" stroke="none" stroke-width="0.6"/>
<rect x="119.90" y="269.60" width="0.60" height="20.60" fill="#888" stroke="none" stroke-width="0.6"/>
<rect x="121.40" y="269.60" width="1.00" height="20.60" fill="#777" stroke="none" stroke-width="0.6"/>
<rect x="122.40" y="269.60" width="1.50" height="20.60" fill="#111" stroke="none" stroke-width="0.6"/>
<rect x="123.90" y="269.60" width="4.10" height="20.60" fill="#8a8a8a" stroke="none" stroke-width="0.6"/>
<rect x="128.00" y="269.60" width="3.60" height="20.60" fill="#555" stroke="none" stroke-width="0.6"/>
<rect x="131.60" y="269.60" width="0.60" height="20.60" fill="#ccc" stroke="none" stroke-width="0.6"/>
<rect x="132.20" y="269.60" width="2.80" height="20.60" fill="#666" stroke="none" stroke-width="0.6"/>
<rect x="135.00" y="269.60" width="2.80" height="20.60" fill="#000" stroke="none" stroke-width="0.6"/>
<rect x="25.60" y="290.20" width="112.20" height="5.60" fill="url(#rankbar)" stroke="none" stroke-width="0.6"/>
<text x="25.00" y="306.10" font-size="8.1" text-anchor="start" fill="#222" font-family='"Liberation Sans", sans-serif' textLength="34.50" lengthAdjust="spacingAndGlyphs">Pias4-WT</text>
<text x="101.50" y="306.00" font-size="8.1" text-anchor="start" fill="#222" font-family='"Liberation Sans", sans-serif' textLength="46.90" lengthAdjust="spacingAndGlyphs">Pias4-SiRNA</text>
<text x="166.40" y="188.10" font-size="12.7" text-anchor="start" fill="#111" font-family='"Liberation Serif", serif'>(D)</text>
<rect x="207.60" y="278.45" width="9.80" height="10.15" fill="url(#hatchB)" stroke="#a2c3ec" stroke-width="0.8"/>
<rect x="222.50" y="277.92" width="10.00" height="10.68" fill="url(#checkP)" stroke="#e9527e" stroke-width="0.8"/>
<rect x="247.60" y="265.05" width="9.80" height="23.55" fill="url(#hatchB)" stroke="#a2c3ec" stroke-width="0.8"/>
<rect x="262.60" y="270.01" width="9.50" height="18.59" fill="url(#checkP)" stroke="#e9527e" stroke-width="0.8"/>
<rect x="288.00" y="225.70" width="9.80" height="62.90" fill="url(#hatchB)" stroke="#a2c3ec" stroke-width="0.8"/>
<rect x="303.20" y="251.02" width="9.60" height="37.58" fill="url(#checkP)" stroke="#e9527e" stroke-width="0.8"/>
<line x1="212.50" y1="277.73" x2="212.50" y2="278.74" stroke="#e8262c" stroke-width="1.0"/>
<line x1="209.80" y1="277.73" x2="215.20" y2="277.73" stroke="#e8262c" stroke-width="1.1"/>
<circle cx="209.40" cy="278.35" r="0.75" fill="#e8262c" stroke="none" stroke-width="0.6"/>
<circle cx="212.50" cy="278.64" r="0.75" fill="#e8262c" stroke="none" stroke-width="0.6"/>
<circle cx="215.60" cy="277.85" r="0.75" fill="#e8262c" stroke="none" stroke-width="0.6"/>
<line x1="227.50" y1="277.21" x2="227.50" y2="278.21" stroke="#2f8a3c" stroke-width="1.0"/>
<line x1="224.80" y1="277.21" x2="230.20" y2="277.21" stroke="#2f8a3c" stroke-width="1.1"/>
<circle cx="224.30" cy="277.82" r="0.75" fill="#2f8a3c" stroke="none" stroke-width="0.6"/>
<circle cx="227.50" cy="278.11" r="0.75" fill="#2f8a3c" stroke="none" stroke-width="0.6"/>
<circle cx="230.70" cy="277.32" r="0.75" fill="#2f8a3c" stroke="none" stroke-width="0.6"/>
<line x1="252.50" y1="263.39" x2="252.50" y2="265.91" stroke="#e8262c" stroke-width="1.0"/>
<line x1="249.80" y1="263.39" x2="255.20" y2="263.39" stroke="#e8262c" stroke-width="1.1"/>
<circle cx="249.40" cy="264.95" r="0.75" fill="#e8262c" stroke="none" stroke-width="0.6"/>
<circle cx="252.50" cy="265.81" r="0.75" fill="#e8262c" stroke="none" stroke-width="0.6"/>
<circle cx="255.60" cy="264.45" r="0.75" fill="#e8262c" stroke="none" stroke-width="0.6"/>
<line x1="267.35" y1="267.50" x2="267.35" y2="271.38" stroke="#2f8a3c" stroke-width="1.0"/>
<line x1="264.65" y1="267.50" x2="270.05" y2="267.50" stroke="#2f8a3c" stroke-width="1.1"/>
<circle cx="264.40" cy="269.91" r="0.75" fill="#2f8a3c" stroke="none" stroke-width="0.6"/>
<circle cx="267.35" cy="271.28" r="0.75" fill="#2f8a3c" stroke="none" stroke-width="0.6"/>
<circle cx="270.30" cy="269.41" r="0.75" fill="#2f8a3c" stroke="none" stroke-width="0.6"/>
<line x1="292.90" y1="222.66" x2="292.90" y2="227.38" stroke="#e8262c" stroke-width="1.0"/>
<line x1="290.20" y1="222.66" x2="295.60" y2="222.66" stroke="#e8262c" stroke-width="1.1"/>
<circle cx="289.80" cy="225.60" r="0.75" fill="#e8262c" stroke="none" stroke-width="0.6"/>
<circle cx="292.90" cy="227.28" r="0.75" fill="#e8262c" stroke="none" stroke-width="0.6"/>
<circle cx="296.00" cy="225.10" r="0.75" fill="#e8262c" stroke="none" stroke-width="0.6"/>
<line x1="308.00" y1="247.98" x2="308.00" y2="252.70" stroke="#2f8a3c" stroke-width="1.0"/>
<line x1="305.30" y1="247.98" x2="310.70" y2="247.98" stroke="#2f8a3c" stroke-width="1.1"/>
<circle cx="305.00" cy="250.92" r="0.75" fill="#2f8a3c" stroke="none" stroke-width="0.6"/>
<circle cx="308.00" cy="252.60" r="0.75" fill="#2f8a3c" stroke="none" stroke-width="0.6"/>
<circle cx="311.00" cy="250.42" r="0.75" fill="#2f8a3c" stroke="none" stroke-width="0.6"/>
<line x1="199.80" y1="203.30" x2="199.80" y2="289.50" stroke="#000" stroke-width="1.6"/>
<line x1="199.00" y1="288.60" x2="320.90" y2="288.60" stroke="#000" stroke-width="1.8"/>
<line x1="197.20" y1="288.60" x2="199.80" y2="288.60" stroke="#000" stroke-width="1.1"/>
<text x="196.20" y="290.87" font-size="6.3" text-anchor="end" fill="#000" font-family='"Liberation Sans", sans-serif'>0.0</text>
<line x1="197.20" y1="267.50" x2="199.80" y2="267.50" stroke="#000" stroke-width="1.1"/>
<text x="196.20" y="269.77" font-size="6.3" text-anchor="end" fill="#000" font-family='"Liberation Sans", sans-serif'>0.2</text>
<line x1="197.20" y1="246.40" x2="199.80" y2="246.40" stroke="#000" stroke-width="1.1"/>
<text x="196.20" y="248.67" font-size="6.3" text-anchor="end" fill="#000" font-family='"Liberation Sans", sans-serif'>0.4</text>
<line x1="197.20" y1="225.30" x2="199.80" y2="225.30" stroke="#000" stroke-width="1.1"/>
<text x="196.20" y="227.57" font-size="6.3" text-anchor="end" fill="#000" font-family='"Liberation Sans", sans-serif'>0.6</text>
<line x1="197.20" y1="204.20" x2="199.80" y2="204.20" stroke="#000" stroke-width="1.1"/>
<text x="196.20" y="206.47" font-size="6.3" text-anchor="end" fill="#000" font-family='"Liberation Sans", sans-serif'>0.8</text>
<line x1="219.90" y1="288.60" x2="219.90" y2="291.20" stroke="#000" stroke-width="1.1"/>
<text x="222.40" y="294.20" font-size="6.9" text-anchor="end" fill="#111" font-family='"Liberation Sans", sans-serif' transform="rotate(-45 222.40 294.20)">24h</text>
<line x1="260.00" y1="288.60" x2="260.00" y2="291.20" stroke="#000" stroke-width="1.1"/>
<text x="262.50" y="294.20" font-size="6.9" text-anchor="end" fill="#111" font-family='"Liberation Sans", sans-serif' transform="rotate(-45 262.50 294.20)">48h</text>
<line x1="300.20" y1="288.60" x2="300.20" y2="291.20" stroke="#000" stroke-width="1.1"/>
<text x="302.70" y="294.20" font-size="6.9" text-anchor="end" fill="#111" font-family='"Liberation Sans", sans-serif' transform="rotate(-45 302.70 294.20)">72h</text>
<text x="185.00" y="246.20" font-size="8.6" text-anchor="middle" fill="#111" font-family='"Liberation Sans", sans-serif' textLength="73.50" lengthAdjust="spacingAndGlyphs" transform="rotate(-90 185.00 246.20)">Relative cell number</text>
<path d="M212.50,274.30 L212.50,273.40 L227.70,273.40 L227.70,274.30" fill="none" stroke="#222" stroke-width="1.0"/>
<text x="220.10" y="270.70" font-size="5.4" text-anchor="middle" fill="#222" font-family='"Liberation Sans", sans-serif'>0.220</text>
<path d="M252.60,260.90 L252.60,260.00 L267.40,260.00 L267.40,260.90" fill="none" stroke="#222" stroke-width="1.0"/>
<text x="260.00" y="257.30" font-size="5.4" text-anchor="middle" fill="#222" font-family='"Liberation Sans", sans-serif'>0.049</text>
<path d="M292.10,220.20 L292.10,219.30 L307.50,219.30 L307.50,220.20" fill="none" stroke="#222" stroke-width="1.0"/>
<text x="299.80" y="216.60" font-size="5.4" text-anchor="middle" fill="#222" font-family='"Liberation Sans", sans-serif'>0.002</text>
<rect x="214.50" y="200.60" width="10.00" height="5.90" fill="url(#hatchB)" stroke="#a2c3ec" stroke-width="0.8"/>
<text x="227.90" y="206.21" font-size="7.4" text-anchor="start" fill="#111" font-family='"Liberation Sans", sans-serif' textLength="52.50" lengthAdjust="spacingAndGlyphs">Pias4+/+ MEF</text>
<rect x="214.50" y="209.40" width="10.00" height="5.90" fill="url(#checkP)" stroke="#e9527e" stroke-width="0.8"/>
<text x="227.90" y="215.01" font-size="7.4" text-anchor="start" fill="#111" font-family='"Liberation Sans", sans-serif' textLength="48.50" lengthAdjust="spacingAndGlyphs">Pias4-/- MEF</text>
<text x="321.70" y="188.10" font-size="12.7" text-anchor="start" fill="#111" font-family='"Liberation Serif", serif'>(E)</text>
<text x="410.70" y="195.80" font-size="8.3" text-anchor="start" fill="#111" font-family='"Liberation Sans", sans-serif' textLength="21.70" lengthAdjust="spacingAndGlyphs">MCF7</text>
<rect x="373.40" y="280.80" width="7.60" height="17.00" fill="url(#hatchB)" stroke="#a2c3ec" stroke-width="0.8"/>
<rect x="385.70" y="283.54" width="7.60" height="14.26" fill="url(#checkP)" stroke="#e9527e" stroke-width="0.8"/>
<rect x="397.80" y="283.54" width="7.40" height="14.26" fill="url(#stripeV)" stroke="#a87fcb" stroke-width="0.8"/>
<rect x="417.10" y="248.74" width="7.40" height="49.06" fill="url(#hatchB)" stroke="#a2c3ec" stroke-width="0.8"/>
<rect x="428.90" y="266.14" width="7.50" height="31.66" fill="url(#checkP)" stroke="#e9527e" stroke-width="0.8"/>
<rect x="440.50" y="264.31" width="7.60" height="33.49" fill="url(#stripeV)" stroke="#a87fcb" stroke-width="0.8"/>
<rect x="460.50" y="218.51" width="7.40" height="79.29" fill="url(#hatchB)" stroke="#a2c3ec" stroke-width="0.8"/>
<rect x="472.00" y="253.32" width="7.50" height="44.48" fill="url(#checkP)" stroke="#e9527e" stroke-width="0.8"/>
<rect x="483.60" y="251.48" width="7.70" height="46.32" fill="url(#stripeV)" stroke="#a87fcb" stroke-width="0.8"/>
<line x1="377.20" y1="280.03" x2="377.20" y2="281.12" stroke="#e8262c" stroke-width="1.0"/>
<line x1="375.10" y1="280.03" x2="379.30" y2="280.03" stroke="#e8262c" stroke-width="1.1"/>
<circle cx="375.20" cy="280.70" r="0.75" fill="#e8262c" stroke="none" stroke-width="0.6"/>
<circle cx="377.20" cy="281.02" r="0.75" fill="#e8262c" stroke="none" stroke-width="0.6"/>
<circle cx="379.20" cy="280.20" r="0.75" fill="#e8262c" stroke="none" stroke-width="0.6"/>
<line x1="389.50" y1="282.23" x2="389.50" y2="284.19" stroke="#2f8a3c" stroke-width="1.0"/>
<line x1="387.40" y1="282.23" x2="391.60" y2="282.23" stroke="#2f8a3c" stroke-width="1.1"/>
<circle cx="387.50" cy="283.44" r="0.75" fill="#2f8a3c" stroke="none" stroke-width="0.6"/>
<circle cx="389.50" cy="284.09" r="0.75" fill="#2f8a3c" stroke="none" stroke-width="0.6"/>
<circle cx="391.50" cy="282.94" r="0.75" fill="#2f8a3c" stroke="none" stroke-width="0.6"/>
<line x1="401.50" y1="282.78" x2="401.50" y2="283.86" stroke="#2b4aa6" stroke-width="1.0"/>
<line x1="399.40" y1="282.78" x2="403.60" y2="282.78" stroke="#2b4aa6" stroke-width="1.1"/>
<circle cx="399.60" cy="283.44" r="0.75" fill="#2b4aa6" stroke="none" stroke-width="0.6"/>
<circle cx="401.50" cy="283.76" r="0.75" fill="#2b4aa6" stroke="none" stroke-width="0.6"/>
<circle cx="403.40" cy="282.94" r="0.75" fill="#2b4aa6" stroke="none" stroke-width="0.6"/>
<line x1="420.80" y1="247.79" x2="420.80" y2="249.17" stroke="#e8262c" stroke-width="1.0"/>
<line x1="418.70" y1="247.79" x2="422.90" y2="247.79" stroke="#e8262c" stroke-width="1.1"/>
<circle cx="418.90" cy="248.64" r="0.75" fill="#e8262c" stroke="none" stroke-width="0.6"/>
<circle cx="420.80" cy="249.07" r="0.75" fill="#e8262c" stroke="none" stroke-width="0.6"/>
<circle cx="422.70" cy="248.14" r="0.75" fill="#e8262c" stroke="none" stroke-width="0.6"/>
<line x1="432.65" y1="263.91" x2="432.65" y2="267.34" stroke="#2f8a3c" stroke-width="1.0"/>
<line x1="430.55" y1="263.91" x2="434.75" y2="263.91" stroke="#2f8a3c" stroke-width="1.1"/>
<circle cx="430.70" cy="266.04" r="0.75" fill="#2f8a3c" stroke="none" stroke-width="0.6"/>
<circle cx="432.65" cy="267.24" r="0.75" fill="#2f8a3c" stroke="none" stroke-width="0.6"/>
<circle cx="434.60" cy="265.54" r="0.75" fill="#2f8a3c" stroke="none" stroke-width="0.6"/>
<line x1="444.30" y1="263.36" x2="444.30" y2="264.74" stroke="#2b4aa6" stroke-width="1.0"/>
<line x1="442.20" y1="263.36" x2="446.40" y2="263.36" stroke="#2b4aa6" stroke-width="1.1"/>
<circle cx="442.30" cy="264.21" r="0.75" fill="#2b4aa6" stroke="none" stroke-width="0.6"/>
<circle cx="444.30" cy="264.64" r="0.75" fill="#2b4aa6" stroke="none" stroke-width="0.6"/>
<circle cx="446.30" cy="263.71" r="0.75" fill="#2b4aa6" stroke="none" stroke-width="0.6"/>
<line x1="464.20" y1="214.44" x2="464.20" y2="220.81" stroke="#e8262c" stroke-width="1.0"/>
<line x1="462.10" y1="214.44" x2="466.30" y2="214.44" stroke="#e8262c" stroke-width="1.1"/>
<circle cx="462.30" cy="218.41" r="0.75" fill="#e8262c" stroke="none" stroke-width="0.6"/>
<circle cx="464.20" cy="220.71" r="0.75" fill="#e8262c" stroke="none" stroke-width="0.6"/>
<circle cx="466.10" cy="217.91" r="0.75" fill="#e8262c" stroke="none" stroke-width="0.6"/>
<line x1="475.75" y1="252.37" x2="475.75" y2="253.75" stroke="#2f8a3c" stroke-width="1.0"/>
<line x1="473.65" y1="252.37" x2="477.85" y2="252.37" stroke="#2f8a3c" stroke-width="1.1"/>
<circle cx="473.80" cy="253.22" r="0.75" fill="#2f8a3c" stroke="none" stroke-width="0.6"/>
<circle cx="475.75" cy="253.65" r="0.75" fill="#2f8a3c" stroke="none" stroke-width="0.6"/>
<circle cx="477.70" cy="252.72" r="0.75" fill="#2f8a3c" stroke="none" stroke-width="0.6"/>
<line x1="487.45" y1="248.79" x2="487.45" y2="252.96" stroke="#2b4aa6" stroke-width="1.0"/>
<line x1="485.35" y1="248.79" x2="489.55" y2="248.79" stroke="#2b4aa6" stroke-width="1.1"/>
<circle cx="485.40" cy="251.38" r="0.75" fill="#2b4aa6" stroke="none" stroke-width="0.6"/>
<circle cx="487.45" cy="252.86" r="0.75" fill="#2b4aa6" stroke="none" stroke-width="0.6"/>
<circle cx="489.50" cy="250.88" r="0.75" fill="#2b4aa6" stroke="none" stroke-width="0.6"/>
<line x1="367.50" y1="205.60" x2="367.50" y2="298.70" stroke="#000" stroke-width="1.6"/>
<line x1="366.70" y1="297.80" x2="497.40" y2="297.80" stroke="#000" stroke-width="1.8"/>
<line x1="364.90" y1="297.80" x2="367.50" y2="297.80" stroke="#000" stroke-width="1.1"/>
<text x="363.20" y="299.96" font-size="6.0" text-anchor="end" fill="#000" font-family='"Liberation Sans", sans-serif'>0.0</text>
<line x1="364.90" y1="279.48" x2="367.50" y2="279.48" stroke="#000" stroke-width="1.1"/>
<text x="363.20" y="281.64" font-size="6.0" text-anchor="end" fill="#000" font-family='"Liberation Sans", sans-serif'>0.2</text>
<line x1="364.90" y1="261.16" x2="367.50" y2="261.16" stroke="#000" stroke-width="1.1"/>
<text x="363.20" y="263.32" font-size="6.0" text-anchor="end" fill="#000" font-family='"Liberation Sans", sans-serif'>0.4</text>
<line x1="364.90" y1="242.84" x2="367.50" y2="242.84" stroke="#000" stroke-width="1.1"/>
<text x="363.20" y="245.00" font-size="6.0" text-anchor="end" fill="#000" font-family='"Liberation Sans", sans-serif'>0.6</text>
<line x1="364.90" y1="224.52" x2="367.50" y2="224.52" stroke="#000" stroke-width="1.1"/>
<text x="363.20" y="226.68" font-size="6.0" text-anchor="end" fill="#000" font-family='"Liberation Sans", sans-serif'>0.8</text>
<line x1="364.90" y1="206.20" x2="367.50" y2="206.20" stroke="#000" stroke-width="1.1"/>
<text x="363.20" y="208.36" font-size="6.0" text-anchor="end" fill="#000" font-family='"Liberation Sans", sans-serif'>1.0</text>
<line x1="389.30" y1="297.80" x2="389.30" y2="300.40" stroke="#000" stroke-width="1.1"/>
<text x="393.30" y="304.80" font-size="6.6" text-anchor="end" fill="#111" font-family='"Liberation Sans", sans-serif' transform="rotate(-45 393.30 304.80)">24h</text>
<line x1="432.60" y1="297.80" x2="432.60" y2="300.40" stroke="#000" stroke-width="1.1"/>
<text x="436.60" y="304.80" font-size="6.6" text-anchor="end" fill="#111" font-family='"Liberation Sans", sans-serif' transform="rotate(-45 436.60 304.80)">48h</text>
<line x1="475.30" y1="297.80" x2="475.30" y2="300.40" stroke="#000" stroke-width="1.1"/>
<text x="479.30" y="304.80" font-size="6.6" text-anchor="end" fill="#111" font-family='"Liberation Sans", sans-serif' transform="rotate(-45 479.30 304.80)">72h</text>
<text x="352.30" y="253.80" font-size="8.6" text-anchor="middle" fill="#111" font-family='"Liberation Sans", sans-serif' textLength="73.40" lengthAdjust="spacingAndGlyphs" transform="rotate(-90 352.30 253.80)">Relative cell number</text>
<path d="M377.80,278.10 L377.80,277.20 L391.10,277.20 L391.10,278.10" fill="none" stroke="#222" stroke-width="1.0"/>
<text x="384.45" y="275.20" font-size="5.7" text-anchor="middle" fill="#222" font-family='"Liberation Sans", sans-serif' textLength="12.80" lengthAdjust="spacingAndGlyphs">0.008</text>
<path d="M377.80,269.40 L377.80,268.50 L400.90,268.50 L400.90,269.40" fill="none" stroke="#222" stroke-width="1.0"/>
<text x="389.35" y="266.50" font-size="5.7" text-anchor="middle" fill="#222" font-family='"Liberation Sans", sans-serif' textLength="12.80" lengthAdjust="spacingAndGlyphs">0.010</text>
<path d="M420.60,243.50 L420.60,242.60 L433.60,242.60 L433.60,243.50" fill="none" stroke="#222" stroke-width="1.0"/>
<text x="427.10" y="240.60" font-size="5.7" text-anchor="middle" fill="#222" font-family='"Liberation Sans", sans-serif' textLength="12.80" lengthAdjust="spacingAndGlyphs">0.000</text>
<path d="M420.60,233.50 L420.60,232.60 L443.60,232.60 L443.60,233.50" fill="none" stroke="#222" stroke-width="1.0"/>
<text x="432.10" y="230.60" font-size="5.7" text-anchor="middle" fill="#222" font-family='"Liberation Sans", sans-serif' textLength="12.80" lengthAdjust="spacingAndGlyphs">0.000</text>
<path d="M463.00,211.80 L463.00,210.90 L476.00,210.90 L476.00,211.80" fill="none" stroke="#222" stroke-width="1.0"/>
<text x="469.50" y="208.90" font-size="5.7" text-anchor="middle" fill="#222" font-family='"Liberation Sans", sans-serif' textLength="12.80" lengthAdjust="spacingAndGlyphs">0.000</text>
<path d="M463.00,202.20 L463.00,201.30 L486.80,201.30 L486.80,202.20" fill="none" stroke="#222" stroke-width="1.0"/>
<text x="474.90" y="199.30" font-size="5.7" text-anchor="middle" fill="#222" font-family='"Liberation Sans", sans-serif' textLength="12.80" lengthAdjust="spacingAndGlyphs">0.000</text>
<rect x="378.60" y="202.50" width="9.80" height="4.60" fill="url(#hatchB)" stroke="#a2c3ec" stroke-width="0.8"/>
<text x="391.10" y="207.39" font-size="7.2" text-anchor="start" fill="#111" font-family='"Liberation Sans", sans-serif' textLength="20.00" lengthAdjust="spacingAndGlyphs">ShNC</text>
<rect x="378.60" y="209.50" width="9.80" height="5.00" fill="url(#checkP)" stroke="#e9527e" stroke-width="0.8"/>
<text x="391.10" y="214.59" font-size="7.2" text-anchor="start" fill="#111" font-family='"Liberation Sans", sans-serif' textLength="35.00" lengthAdjust="spacingAndGlyphs">ShPIAS4-1</text>
<rect x="378.60" y="216.50" width="9.80" height="5.00" fill="url(#stripeV)" stroke="#a87fcb" stroke-width="0.8"/>
<text x="391.10" y="221.59" font-size="7.2" text-anchor="start" fill="#111" font-family='"Liberation Sans", sans-serif' textLength="35.30" lengthAdjust="spacingAndGlyphs">ShPIAS4-2</text>
<text x="507.60" y="188.10" font-size="12.7" text-anchor="start" fill="#111" font-family='"Liberation Serif", serif'>(F)</text>
<text x="596.60" y="195.30" font-size="8.3" text-anchor="start" fill="#111" font-family='"Liberation Sans", sans-serif' textLength="26.00" lengthAdjust="spacingAndGlyphs">BT-474</text>
<rect x="560.60" y="275.45" width="7.80" height="22.75" fill="url(#hatchB)" stroke="#a2c3ec" stroke-width="0.8"/>
<rect x="572.60" y="282.76" width="7.50" height="15.44" fill="url(#checkP)" stroke="#e9527e" stroke-width="0.8"/>
<rect x="584.70" y="282.76" width="7.20" height="15.44" fill="url(#stripeV)" stroke="#a87fcb" stroke-width="0.8"/>
<rect x="604.90" y="252.29" width="7.00" height="45.91" fill="url(#hatchB)" stroke="#a2c3ec" stroke-width="0.8"/>
<rect x="616.50" y="273.62" width="7.20" height="24.58" fill="url(#checkP)" stroke="#e9527e" stroke-width="0.8"/>
<rect x="628.20" y="273.62" width="7.40" height="24.58" fill="url(#stripeV)" stroke="#a87fcb" stroke-width="0.8"/>
<rect x="647.60" y="220.00" width="7.60" height="78.20" fill="url(#hatchB)" stroke="#a2c3ec" stroke-width="0.8"/>
<rect x="659.30" y="252.29" width="7.40" height="45.91" fill="url(#checkP)" stroke="#e9527e" stroke-width="0.8"/>
<rect x="671.50" y="252.29" width="7.20" height="45.91" fill="url(#stripeV)" stroke="#a87fcb" stroke-width="0.8"/>
<line x1="564.50" y1="273.83" x2="564.50" y2="276.28" stroke="#e8262c" stroke-width="1.0"/>
<line x1="562.40" y1="273.83" x2="566.60" y2="273.83" stroke="#e8262c" stroke-width="1.1"/>
<circle cx="562.40" cy="275.35" r="0.75" fill="#e8262c" stroke="none" stroke-width="0.6"/>
<circle cx="564.50" cy="276.18" r="0.75" fill="#e8262c" stroke="none" stroke-width="0.6"/>
<circle cx="566.60" cy="274.85" r="0.75" fill="#e8262c" stroke="none" stroke-width="0.6"/>
<line x1="576.35" y1="281.75" x2="576.35" y2="283.22" stroke="#2f8a3c" stroke-width="1.0"/>
<line x1="574.25" y1="281.75" x2="578.45" y2="281.75" stroke="#2f8a3c" stroke-width="1.1"/>
<circle cx="574.40" cy="282.66" r="0.75" fill="#2f8a3c" stroke="none" stroke-width="0.6"/>
<circle cx="576.35" cy="283.12" r="0.75" fill="#2f8a3c" stroke="none" stroke-width="0.6"/>
<circle cx="578.30" cy="282.16" r="0.75" fill="#2f8a3c" stroke="none" stroke-width="0.6"/>
<line x1="588.30" y1="281.75" x2="588.30" y2="283.22" stroke="#2b4aa6" stroke-width="1.0"/>
<line x1="586.20" y1="281.75" x2="590.40" y2="281.75" stroke="#2b4aa6" stroke-width="1.1"/>
<circle cx="586.50" cy="282.66" r="0.75" fill="#2b4aa6" stroke="none" stroke-width="0.6"/>
<circle cx="588.30" cy="283.12" r="0.75" fill="#2b4aa6" stroke="none" stroke-width="0.6"/>
<circle cx="590.10" cy="282.16" r="0.75" fill="#2b4aa6" stroke="none" stroke-width="0.6"/>
<line x1="608.40" y1="250.67" x2="608.40" y2="253.12" stroke="#e8262c" stroke-width="1.0"/>
<line x1="606.30" y1="250.67" x2="610.50" y2="250.67" stroke="#e8262c" stroke-width="1.1"/>
<circle cx="606.70" cy="252.19" r="0.75" fill="#e8262c" stroke="none" stroke-width="0.6"/>
<circle cx="608.40" cy="253.02" r="0.75" fill="#e8262c" stroke="none" stroke-width="0.6"/>
<circle cx="610.10" cy="251.69" r="0.75" fill="#e8262c" stroke="none" stroke-width="0.6"/>
<line x1="620.10" y1="272.00" x2="620.10" y2="274.45" stroke="#2f8a3c" stroke-width="1.0"/>
<line x1="618.00" y1="272.00" x2="622.20" y2="272.00" stroke="#2f8a3c" stroke-width="1.1"/>
<circle cx="618.30" cy="273.52" r="0.75" fill="#2f8a3c" stroke="none" stroke-width="0.6"/>
<circle cx="620.10" cy="274.35" r="0.75" fill="#2f8a3c" stroke="none" stroke-width="0.6"/>
<circle cx="621.90" cy="273.02" r="0.75" fill="#2f8a3c" stroke="none" stroke-width="0.6"/>
<line x1="631.90" y1="272.00" x2="631.90" y2="274.45" stroke="#2b4aa6" stroke-width="1.0"/>
<line x1="629.80" y1="272.00" x2="634.00" y2="272.00" stroke="#2b4aa6" stroke-width="1.1"/>
<circle cx="630.00" cy="273.52" r="0.75" fill="#2b4aa6" stroke="none" stroke-width="0.6"/>
<circle cx="631.90" cy="274.35" r="0.75" fill="#2b4aa6" stroke="none" stroke-width="0.6"/>
<circle cx="633.80" cy="273.02" r="0.75" fill="#2b4aa6" stroke="none" stroke-width="0.6"/>
<line x1="651.40" y1="218.99" x2="651.40" y2="220.46" stroke="#e8262c" stroke-width="1.0"/>
<line x1="649.30" y1="218.99" x2="653.50" y2="218.99" stroke="#e8262c" stroke-width="1.1"/>
<circle cx="649.40" cy="219.90" r="0.75" fill="#e8262c" stroke="none" stroke-width="0.6"/>
<circle cx="651.40" cy="220.36" r="0.75" fill="#e8262c" stroke="none" stroke-width="0.6"/>
<circle cx="653.40" cy="219.40" r="0.75" fill="#e8262c" stroke="none" stroke-width="0.6"/>
<line x1="663.00" y1="250.06" x2="663.00" y2="253.49" stroke="#2f8a3c" stroke-width="1.0"/>
<line x1="660.90" y1="250.06" x2="665.10" y2="250.06" stroke="#2f8a3c" stroke-width="1.1"/>
<circle cx="661.10" cy="252.19" r="0.75" fill="#2f8a3c" stroke="none" stroke-width="0.6"/>
<circle cx="663.00" cy="253.39" r="0.75" fill="#2f8a3c" stroke="none" stroke-width="0.6"/>
<circle cx="664.90" cy="251.69" r="0.75" fill="#2f8a3c" stroke="none" stroke-width="0.6"/>
<line x1="675.10" y1="248.84" x2="675.10" y2="254.22" stroke="#2b4aa6" stroke-width="1.0"/>
<line x1="673.00" y1="248.84" x2="677.20" y2="248.84" stroke="#2b4aa6" stroke-width="1.1"/>
<circle cx="673.30" cy="252.19" r="0.75" fill="#2b4aa6" stroke="none" stroke-width="0.6"/>
<circle cx="675.10" cy="254.12" r="0.75" fill="#2b4aa6" stroke="none" stroke-width="0.6"/>
<circle cx="676.90" cy="251.69" r="0.75" fill="#2b4aa6" stroke="none" stroke-width="0.6"/>
<line x1="554.60" y1="205.90" x2="554.60" y2="299.10" stroke="#000" stroke-width="1.6"/>
<line x1="553.80" y1="298.20" x2="685.00" y2="298.20" stroke="#000" stroke-width="1.8"/>
<line x1="552.00" y1="298.20" x2="554.60" y2="298.20" stroke="#000" stroke-width="1.1"/>
<text x="549.60" y="299.66" font-size="6.0" text-anchor="end" fill="#000" font-family='"Liberation Sans", sans-serif'>0.0</text>
<line x1="552.00" y1="267.73" x2="554.60" y2="267.73" stroke="#000" stroke-width="1.1"/>
<text x="549.60" y="269.19" font-size="6.0" text-anchor="end" fill="#000" font-family='"Liberation Sans", sans-serif'>0.5</text>
<line x1="552.00" y1="237.27" x2="554.60" y2="237.27" stroke="#000" stroke-width="1.1"/>
<text x="549.60" y="238.73" font-size="6.0" text-anchor="end" fill="#000" font-family='"Liberation Sans", sans-serif'>1.0</text>
<line x1="552.00" y1="206.80" x2="554.60" y2="206.80" stroke="#000" stroke-width="1.1"/>
<text x="549.60" y="208.26" font-size="6.0" text-anchor="end" fill="#000" font-family='"Liberation Sans", sans-serif'>1.5</text>
<line x1="576.60" y1="298.20" x2="576.60" y2="300.80" stroke="#000" stroke-width="1.1"/>
<text x="580.60" y="305.20" font-size="6.6" text-anchor="end" fill="#111" font-family='"Liberation Sans", sans-serif' transform="rotate(-45 580.60 305.20)">24h</text>
<line x1="619.60" y1="298.20" x2="619.60" y2="300.80" stroke="#000" stroke-width="1.1"/>
<text x="623.60" y="305.20" font-size="6.6" text-anchor="end" fill="#111" font-family='"Liberation Sans", sans-serif' transform="rotate(-45 623.60 305.20)">48h</text>
<line x1="662.90" y1="298.20" x2="662.90" y2="300.80" stroke="#000" stroke-width="1.1"/>
<text x="666.90" y="305.20" font-size="6.6" text-anchor="end" fill="#111" font-family='"Liberation Sans", sans-serif' transform="rotate(-45 666.90 305.20)">72h</text>
<text x="538.90" y="248.00" font-size="8.6" text-anchor="middle" fill="#111" font-family='"Liberation Sans", sans-serif' textLength="70.50" lengthAdjust="spacingAndGlyphs" transform="rotate(-90 538.90 248.00)">Relative cell number</text>
<path d="M565.20,271.20 L565.20,270.30 L577.10,270.30 L577.10,271.20" fill="none" stroke="#222" stroke-width="1.0"/>
<text x="571.15" y="268.30" font-size="5.7" text-anchor="middle" fill="#222" font-family='"Liberation Sans", sans-serif' textLength="12.80" lengthAdjust="spacingAndGlyphs">0.000</text>
<path d="M565.20,261.40 L565.20,260.50 L588.30,260.50 L588.30,261.40" fill="none" stroke="#222" stroke-width="1.0"/>
<text x="576.75" y="258.50" font-size="5.7" text-anchor="middle" fill="#222" font-family='"Liberation Sans", sans-serif' textLength="12.80" lengthAdjust="spacingAndGlyphs">0.000</text>
<path d="M608.50,245.80 L608.50,244.90 L620.80,244.90 L620.80,245.80" fill="none" stroke="#222" stroke-width="1.0"/>
<text x="614.65" y="242.90" font-size="5.7" text-anchor="middle" fill="#222" font-family='"Liberation Sans", sans-serif' textLength="12.80" lengthAdjust="spacingAndGlyphs">0.000</text>
<path d="M608.50,235.30 L608.50,234.40 L631.50,234.40 L631.50,235.30" fill="none" stroke="#222" stroke-width="1.0"/>
<text x="620.00" y="232.40" font-size="5.7" text-anchor="middle" fill="#222" font-family='"Liberation Sans", sans-serif' textLength="12.80" lengthAdjust="spacingAndGlyphs">0.000</text>
<path d="M652.10,214.50 L652.10,213.60 L665.10,213.60 L665.10,214.50" fill="none" stroke="#222" stroke-width="1.0"/>
<text x="658.60" y="211.60" font-size="5.7" text-anchor="middle" fill="#222" font-family='"Liberation Sans", sans-serif' textLength="12.80" lengthAdjust="spacingAndGlyphs">0.000</text>
<path d="M652.10,204.40 L652.10,203.50 L675.60,203.50 L675.60,204.40" fill="none" stroke="#222" stroke-width="1.0"/>
<text x="663.85" y="201.50" font-size="5.7" text-anchor="middle" fill="#222" font-family='"Liberation Sans", sans-serif' textLength="12.80" lengthAdjust="spacingAndGlyphs">0.000</text>
<rect x="565.50" y="203.70" width="9.10" height="4.60" fill="url(#hatchB)" stroke="#a2c3ec" stroke-width="0.8"/>
<text x="578.10" y="208.59" font-size="7.2" text-anchor="start" fill="#111" font-family='"Liberation Sans", sans-serif' textLength="20.00" lengthAdjust="spacingAndGlyphs">ShNC</text>
<rect x="565.50" y="210.90" width="9.10" height="4.90" fill="url(#checkP)" stroke="#e9527e" stroke-width="0.8"/>
<text x="578.10" y="215.94" font-size="7.2" text-anchor="start" fill="#111" font-family='"Liberation Sans", sans-serif' textLength="35.00" lengthAdjust="spacingAndGlyphs">ShPIAS4-1</text>
<rect x="565.50" y="218.00" width="9.10" height="4.90" fill="url(#stripeV)" stroke="#a87fcb" stroke-width="0.8"/>
<text x="578.10" y="223.04" font-size="7.2" text-anchor="start" fill="#111" font-family='"Liberation Sans", sans-serif' textLength="35.30" lengthAdjust="spacingAndGlyphs">ShPIAS4-2</text>
</svg>
</body></html>
